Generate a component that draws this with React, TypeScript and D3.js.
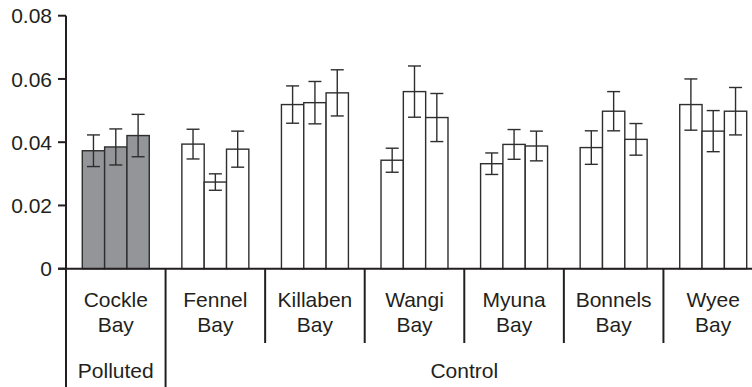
import React from "react";
import * as d3 from "d3";

const bays = ["Cockle Bay", "Fennel Bay", "Killaben Bay", "Wangi Bay", "Myuna Bay", "Bonnels Bay", "Wyee Bay"];
const series1 = [0.0373, 0.0394, 0.0519, 0.0343, 0.0332, 0.0383, 0.0519];
const series2 = [0.0385, 0.0274, 0.0525, 0.056, 0.0393, 0.0498, 0.0435];
const series3 = [0.0421, 0.0378, 0.0556, 0.0478, 0.0388, 0.0409, 0.0498];
const err1 = [0.005, 0.0047, 0.0059, 0.0038, 0.0034, 0.0053, 0.0081];
const err2 = [0.0057, 0.0026, 0.0067, 0.0081, 0.0047, 0.0062, 0.0065];
const err3 = [0.0067, 0.0057, 0.0073, 0.0076, 0.0047, 0.005, 0.0075];
const groupLabels = ["Polluted", "Control"];
const groupStart = [0, 1];
const groupEnd = [1, 7];
const pollutedCount = 1;
const yTicks = [0, 0.02, 0.04, 0.06, 0.08];

const W = 752;
const H = 387;
const left = 66;
const right = 763;
const top = 15.7;
const bottom = 268.7;
const font = "'Liberation Sans', Arial, sans-serif";
const ink = "#231f20";

export default function App() {
  const y = d3.scaleLinear().domain([0, 0.08]).range([bottom, top]);
  const x0 = d3.scaleBand<string>().domain(bays).range([left, right]).padding(0);
  const x1 = d3
    .scaleBand<number>()
    .domain([0, 1, 2])
    .range([0, x0.bandwidth()])
    .paddingInner(0)
    .paddingOuter(0.73);
  const step = x0.step();
  const allSeries = [series1, series2, series3];
  const allErr = [err1, err2, err3];
  const fmt = (d: number) => (d === 0 ? "0" : d3.format(".2f")(d));

  return (
    <svg
      width={W}
      height={H}
      style={{ position: "absolute", left: 0, top: 0, background: "#fff" }}
      fontFamily={font}
    >
      {bays.map((b, i) =>
        allSeries.map((s, k) => {
          const bx = (x0(b) as number) + (x1(k) as number);
          const bw = x1.bandwidth();
          const polluted = i < pollutedCount;
          return (
            <rect
              key={b + k}
              x={bx}
              y={y(s[i])}
              width={bw}
              height={bottom - y(s[i])}
              fill={polluted ? "#939598" : "#fff"}
              stroke="#2e2e2e"
              strokeWidth={1.4}
            />
          );
        })
      )}
      {bays.map((b, i) =>
        allSeries.map((s, k) => {
          const cx = (x0(b) as number) + (x1(k) as number) + x1.bandwidth() / 2;
          const hi = y(s[i] + allErr[k][i]);
          const lo = y(s[i] - allErr[k][i]);
          return (
            <g key={"e" + b + k} stroke="#2e2e2e" strokeWidth={1.4}>
              <line x1={cx} x2={cx} y1={hi} y2={lo} />
              <line x1={cx - 6.5} x2={cx + 6.5} y1={hi} y2={hi} />
              <line x1={cx - 6.5} x2={cx + 6.5} y1={lo} y2={lo} />
            </g>
          );
        })
      )}
      {/* y axis */}
      <line x1={left} x2={left} y1={top} y2={H} stroke={ink} strokeWidth={2} />
      {yTicks.map((t) => (
        <g key={t}>
          <line x1={left - 8} x2={left} y1={y(t)} y2={y(t)} stroke={ink} strokeWidth={2} />
          <text x={52} y={y(t)} dy="0.36em" textAnchor="end" fontSize={21} fill={ink}>
            {fmt(t)}
          </text>
        </g>
      ))}
      {/* x axis */}
      <line x1={left - 8} x2={W} y1={bottom} y2={bottom} stroke={ink} strokeWidth={2} />
      {bays.map((b, i) => {
        const xs = x0(b) as number;
        const isGroupEdge = groupStart.includes(i);
        return i === 0 ? null : (
          <line
            key={"s" + b}
            x1={xs}
            x2={xs}
            y1={bottom}
            y2={isGroupEdge ? H : 343}
            stroke={ink}
            strokeWidth={2}
          />
        );
      })}
      {bays.map((b) => {
        const cx = (x0(b) as number) + step / 2;
        const parts = b.split(" ");
        return (
          <text key={"l" + b} textAnchor="middle" fontSize={21} fill={ink}>
            <tspan x={cx} y={307.3}>{parts[0]}</tspan>
            <tspan x={cx} y={331.7}>{parts[1]}</tspan>
          </text>
        );
      })}
      {groupLabels.map((g, j) => {
        const cx = left + ((groupStart[j] + groupEnd[j]) / 2) * step;
        return (
          <text key={g} x={cx} y={378.3} textAnchor="middle" fontSize={21} fill={ink}>
            {g}
          </text>
        );
      })}
    </svg>
  );
}
